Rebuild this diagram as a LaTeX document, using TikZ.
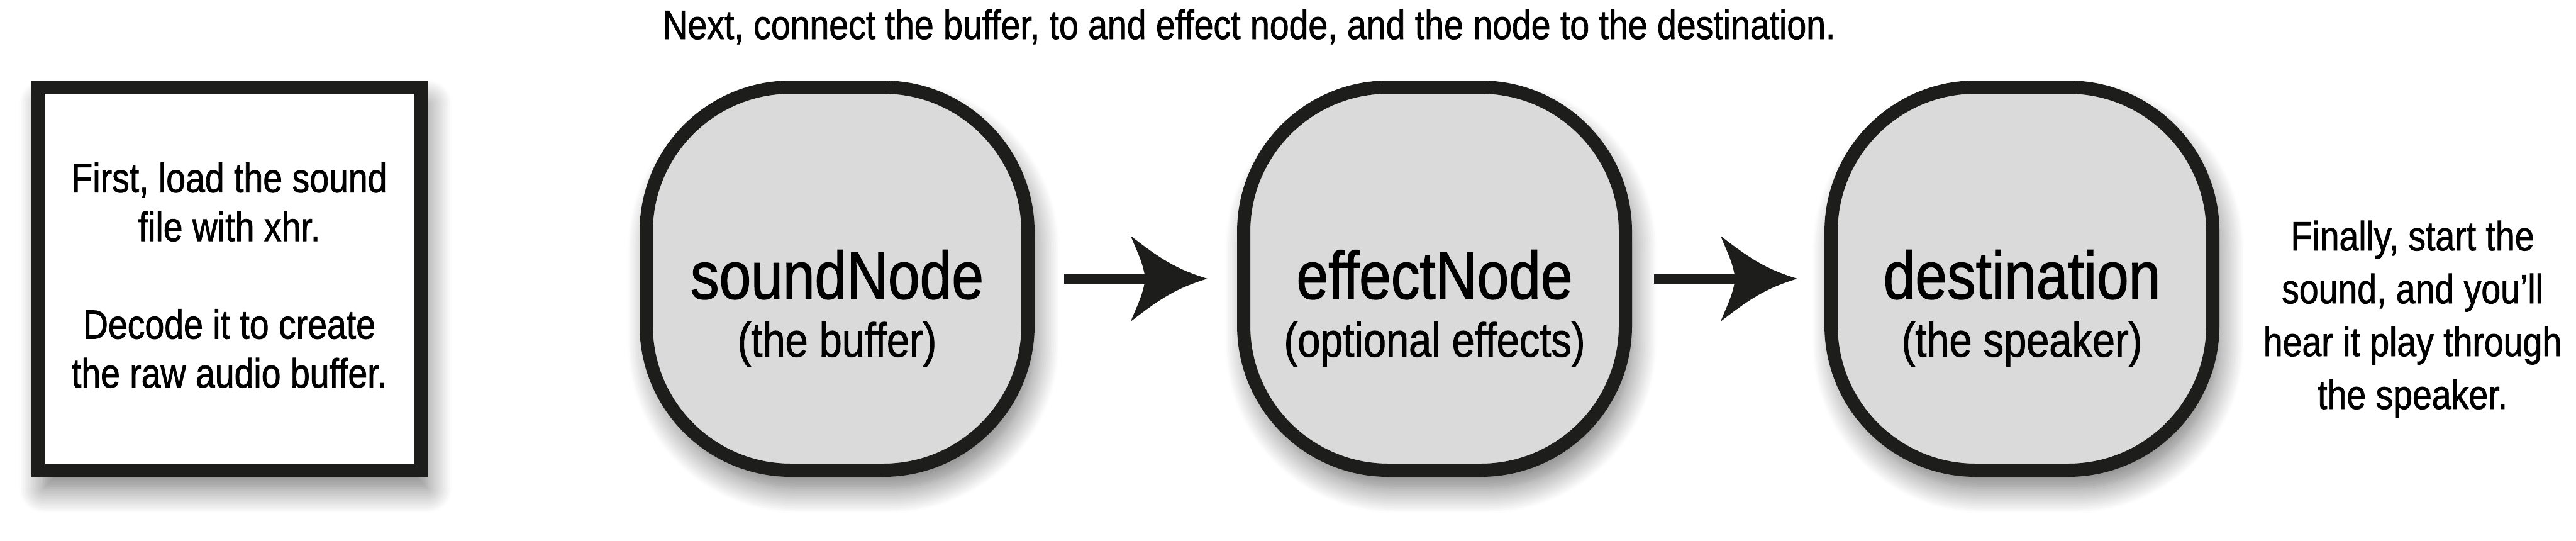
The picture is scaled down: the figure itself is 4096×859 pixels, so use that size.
\documentclass[tikz,border=0pt]{standalone}
\usepackage{fontspec}
\setmainfont{Liberation Sans}[FakeStretch=0.85,FakeBold=1.2]
\usetikzlibrary{shadows.blur,arrows.meta}
\definecolor{ink}{HTML}{1D1D1B}
\definecolor{nodefill}{HTML}{DADADA}
\pgfdeclarearrow{
  name = Concave,
  setup code = {
    \pgfarrowssettipend{0pt}
    \pgfarrowssetbackend{-30.5pt}
    \pgfarrowssetlineend{-23pt}
    \pgfarrowshullpoint{0pt}{0pt}
    \pgfarrowsupperhullpoint{-30.5pt}{17pt}
  },
  drawing code = {
    \pgfpathmoveto{\pgfqpoint{0pt}{0pt}}
    \pgfpathcurveto{\pgfqpoint{-12.5pt}{3.75pt}}{\pgfqpoint{-19.25pt}{8.25pt}}{\pgfqpoint{-30.5pt}{17pt}}
    \pgfpathcurveto{\pgfqpoint{-28pt}{10.75pt}}{\pgfqpoint{-25.5pt}{6.25pt}}{\pgfqpoint{-24.75pt}{0pt}}
    \pgfpathcurveto{\pgfqpoint{-25.5pt}{-6.25pt}}{\pgfqpoint{-28pt}{-10.75pt}}{\pgfqpoint{-30.5pt}{-17pt}}
    \pgfpathcurveto{\pgfqpoint{-19.25pt}{-8.25pt}}{\pgfqpoint{-12.5pt}{-3.75pt}}{\pgfqpoint{0pt}{0pt}}
    \pgfpathclose
    \pgfusepathqfill
  },
}
\begin{document}
\begin{tikzpicture}[x=0.25pt,y=-0.25pt,
  shadowed/.style={blur shadow={shadow xshift=2.5pt,shadow yshift=-7pt,shadow blur radius=10pt,shadow opacity=55,shadow blur steps=15}},
  audionode/.style={draw=ink,line width=5.25pt,fill=nodefill,rounded corners=57.5pt,minimum width=151.75pt,minimum height=152.25pt,inner sep=0pt,outer sep=0pt,shadowed},
  notebox/.style={draw=ink,line width=5.25pt,fill=white,minimum width=152.25pt,minimum height=152.25pt,inner sep=0pt,outer sep=0pt,shadowed},
  title/.style={anchor=base,inner sep=0pt,font=\fontsize{26.8pt}{32pt}\selectfont},
  subtitle/.style={anchor=base,inner sep=0pt,font=\fontsize{19.1pt}{23pt}\selectfont},
  note/.style={align=center,inner sep=0pt,anchor=base,font=\fontsize{16.3pt}{19.4pt}\selectfont},
  flow/.style={draw=ink,line width=3.75pt,-Concave}
]
\useasboundingbox (0,0) rectangle (4096,859);

\node[notebox] (load) at (364.5,443) {};
% anchor=base of a multi-line node is the baseline of its last line
\node[note] (loadtext) at (364.5,616) {First, load the sound\\file with xhr.\\[19.4pt]Decode it to create\\the raw audio buffer.};

\node[audionode] (sound) at (1331,443) {};
\node[audionode] (effect) at (2281,443) {};
\node[audionode] (dest) at (3215,443) {};

\node[title] (soundt) at ([yshift=-8pt]sound.center) {soundNode};
\node[subtitle] (sounds) at ([yshift=-31pt]sound.center) {(the buffer)};
\node[title] (effectt) at ([yshift=-8pt]effect.center) {effectNode};
\node[subtitle] (effects) at ([yshift=-31pt]effect.center) {(optional effects)};
\node[title] (destt) at ([yshift=-8pt]dest.center) {destination};
\node[subtitle] (dests) at ([yshift=-31pt]dest.center) {(the speaker)};

\node[note] (next) at (1986,62) {Next, connect the buffer, to and effect node, and the node to the destination.};
\node[note,font=\fontsize{16.3pt}{21pt}\selectfont] (finally) at (3836,650) {Finally, start the\\sound, and you’ll\\hear it play through\\the speaker.};

\draw[flow] ([xshift=14.4pt]sound.east) -- ([xshift=-14.4pt]effect.west);
\draw[flow] ([xshift=11.4pt]effect.east) -- ([xshift=-13.4pt]dest.west);
\end{tikzpicture}
\end{document}
